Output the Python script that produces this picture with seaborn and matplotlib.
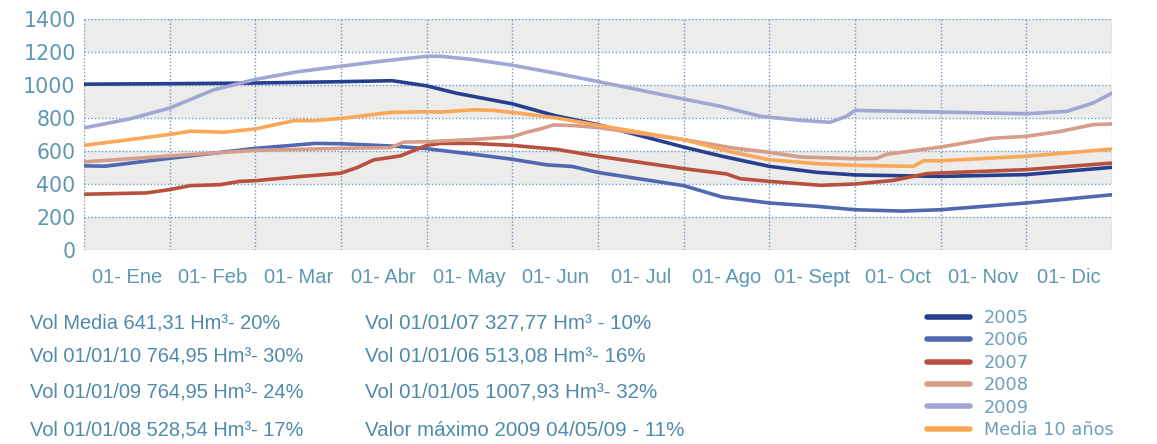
import pandas as pd
import seaborn as sns
import matplotlib.pyplot as plt

# Month positions (0 = 01-Ene, 12 = end of year) and volumes (Hm3)
x_2005 = [0, 1, 2, 3, 3.6, 4, 4.35, 5, 5.5, 6, 7, 7.45, 8, 8.55, 9, 10, 11, 12]
y_2005 = [1005, 1008, 1012, 1020, 1026, 995, 950, 886, 814, 760, 624, 568, 507, 471, 455, 446, 457, 501]

x_2006 = [0, 0.25, 1, 2, 2.7, 3, 3.6, 4, 4.55, 5, 5.4, 5.7, 6, 7, 7.45, 8, 8.55, 9, 9.55, 10, 11, 12]
y_2006 = [510, 508, 556, 616, 646, 644, 630, 614, 580, 550, 516, 506, 470, 390, 321, 285, 265, 244, 236, 244, 285, 335]

x_2007 = [0, 0.73, 1, 1.24, 1.59, 1.82, 2, 2.49, 2.88, 3, 3.19, 3.38, 3.69, 4, 4.16, 4.55, 5, 5.52, 6, 7, 7.5,
          7.66, 8, 8.6, 9, 9.45, 9.84, 10, 11, 12]
y_2007 = [338, 346, 366, 390, 396, 416, 420, 444, 460, 466, 500, 546, 570, 634, 646, 646, 634, 610, 568, 493, 461,
          432, 416, 392, 400, 422, 463, 467, 487, 527]

x_2008 = [0, 1, 2, 3, 3.58, 3.73, 4, 4.55, 5, 5.17, 5.33, 5.48, 5.72, 6, 7, 7.58, 8, 8.36, 9, 9.25, 9.37, 10,
          10.6, 11, 11.4, 11.78, 12]
y_2008 = [534, 570, 604, 616, 620, 654, 656, 670, 686, 714, 734, 758, 754, 742, 669, 618, 592, 564, 553, 555, 580,
          624, 677, 689, 719, 760, 764]

x_2009 = [0, 0.53, 1, 1.51, 2, 2.49, 3, 3.5, 4, 4.16, 4.55, 5, 5.52, 6, 7, 7.43, 7.9, 8.36, 8.71, 8.9, 9, 10, 11,
          11.47, 11.78, 12]
y_2009 = [740, 794, 860, 970, 1034, 1080, 1114, 1146, 1174, 1174, 1154, 1120, 1070, 1021, 915, 871, 810, 786, 774,
          810, 846, 836, 826, 840, 891, 951]

x_media = [0, 1, 1.24, 1.63, 2, 2.45, 2.69, 3, 3.58, 4, 4.16, 4.55, 4.78, 5, 5.52, 6, 7, 7.58, 8, 8.56, 9, 9.68,
           9.8, 10, 11, 12]
y_media = [634, 700, 720, 714, 734, 784, 784, 797, 834, 838, 836, 850, 846, 834, 800, 756, 669, 592, 547, 523, 513,
           507, 541, 541, 568, 612]

series_names = ["2005", "2006", "2007", "2008", "2009", "Media 10 años"]
series_x = [x_2005, x_2006, x_2007, x_2008, x_2009, x_media]
series_y = [y_2005, y_2006, y_2007, y_2008, y_2009, y_media]
colors = ["#263f8e", "#5068b0", "#b8503e", "#d69d8a", "#a1a7d5", "#f9a85a"]

month_labels = ["01- Ene", "01- Feb", "01- Mar", "01- Abr", "01- May", "01- Jun",
                "01- Jul", "01- Ago", "01- Sept", "01- Oct", "01- Nov", "01- Dic"]

notes_left = ["Vol Media 641,31 Hm³- 20%", "Vol 01/01/10 764,95 Hm³- 30%",
              "Vol 01/01/09 764,95 Hm³- 24%", "Vol 01/01/08 528,54 Hm³- 17%"]
notes_right = ["Vol 01/01/07 327,77 Hm³ - 10%", "Vol 01/01/06 513,08 Hm³- 16%",
               "Vol 01/01/05 1007,93 Hm³- 32%", "Valor máximo 2009 04/05/09 - 11%"]

# long-form table for seaborn
frames = []
for name, xs, ys in zip(series_names, series_x, series_y):
    frames.append(pd.DataFrame({"mes": xs, "vol": ys, "serie": name}))
df = pd.concat(frames, ignore_index=True)

sns.set_style("white")
plt.rcParams['font.family'] = ['DejaVu Sans']

tick_color = "#5e97b2"
text_color = "#4f8aab"
grid_color = "#6f98c4"

fig = plt.figure(figsize=(11.57, 4.44), dpi=100)
ax = fig.add_axes([84 / 1157, 1 - 250 / 444, (1112 - 84) / 1157, (250 - 19) / 444])

# alternating grey bands
for lo in [0, 400, 800, 1200]:
    ax.axhspan(lo, lo + 200, color="#ececea", zorder=0, lw=0)

sns.lineplot(data=df, x="mes", y="vol", hue="serie", palette=dict(zip(series_names, colors)),
             hue_order=series_names, linewidth=2.6, ax=ax, sort=False, estimator=None, legend=False)

ax.set_xlim(0, 12)
ax.set_ylim(0, 1400)
ax.set_yticks(range(0, 1401, 200))
ax.set_xticks(range(0, 13))
ax.set_xticklabels([])
ax.set_xticks([m + 0.5 for m in range(12)], minor=True)
ax.set_xticklabels(month_labels, minor=True, fontsize=14.5, color=tick_color,
                   fontfamily="Liberation Sans")
ax.tick_params(axis="x", which="both", length=0, pad=13)
ax.tick_params(axis="y", length=0, pad=6, labelsize=14.8, labelcolor=tick_color)
ax.set_xlabel("")
ax.set_ylabel("")
ax.grid(True, which="major", color=grid_color, linestyle=(0, (1, 1.5)), linewidth=1.0)
ax.set_axisbelow(True)
for s in ax.spines.values():
    s.set_visible(False)

# notes under the chart
rows_y = [323, 356, 392, 430]
for txt, yy in zip(notes_left, rows_y):
    fig.text(30 / 1157, 1 - yy / 444, txt, fontsize=14.4, color=text_color, va="center",
             fontfamily="Liberation Sans")
for txt, yy in zip(notes_right, rows_y):
    fig.text(365 / 1157, 1 - yy / 444, txt, fontsize=14.8, color=text_color, va="center",
             fontfamily="Liberation Sans")

# legend
handles = [plt.Line2D([], [], color=c, linewidth=4) for c in colors]
fig.legend(handles, series_names, loc="upper left", bbox_to_anchor=(918 / 1157, 1 - 300 / 444),
           frameon=False, fontsize=12.8, labelcolor="#6e9fbb", handlelength=2.4,
           handletextpad=0.8, labelspacing=0.25, borderpad=0)

fig.savefig("out.png", dpi=100)
